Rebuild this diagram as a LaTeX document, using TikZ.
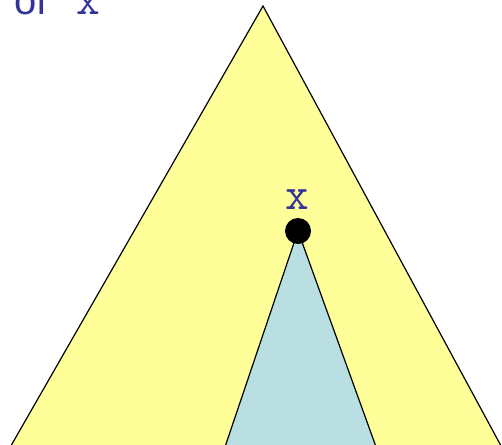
\documentclass[tikz,border=0pt]{standalone}
\usepackage{fontspec}
\setmainfont{Liberation Sans}
\usetikzlibrary{calc}
\definecolor{tyellow}{HTML}{FFFF99}
\definecolor{tblue}{HTML}{B9DFE3}
\definecolor{tnavy}{HTML}{333399}
\begin{document}
\begin{tikzpicture}[x=1pt,y=-1pt,
  tri/.style={draw=black,line width=1.2pt,line join=miter},
  lbl/.style={text=tnavy,font=\fontsize{40}{40}\selectfont,inner sep=0pt,anchor=base west},
  mono/.style={text=tnavy,font=\fontsize{46}{46}\selectfont\ttfamily,inner sep=0pt}]
\useasboundingbox (0,0) rectangle (502,444);
\clip (0,0) rectangle (502,444);
\coordinate (A) at (263,6);
\coordinate (BL) at (12,444);
\coordinate (BR) at (500,444);
\coordinate (X) at (298,231);
\coordinate (SL) at (226,444);
\coordinate (SR) at (375,444);
\fill[tyellow] (A) -- ($(A)!1.05!(BL)$) -- ($(A)!1.05!(BR)$) -- cycle;
\draw[tri] ($(A)!1.05!(BL)$) -- (A) -- ($(A)!1.05!(BR)$);
\fill[tblue] (X) -- ($(X)!1.1!(SL)$) -- ($(X)!1.1!(SR)$) -- cycle;
\draw[tri] ($(X)!1.1!(SL)$) -- (X) -- ($(X)!1.1!(SR)$);
\fill[black] (X) circle (13);
\node[lbl] (t) at (14,15) {of};
\node[mono,anchor=base] (tx) at (88,15) {x};
\node[mono,anchor=base] (xl) at (297,209) {x};
\end{tikzpicture}
\end{document}
